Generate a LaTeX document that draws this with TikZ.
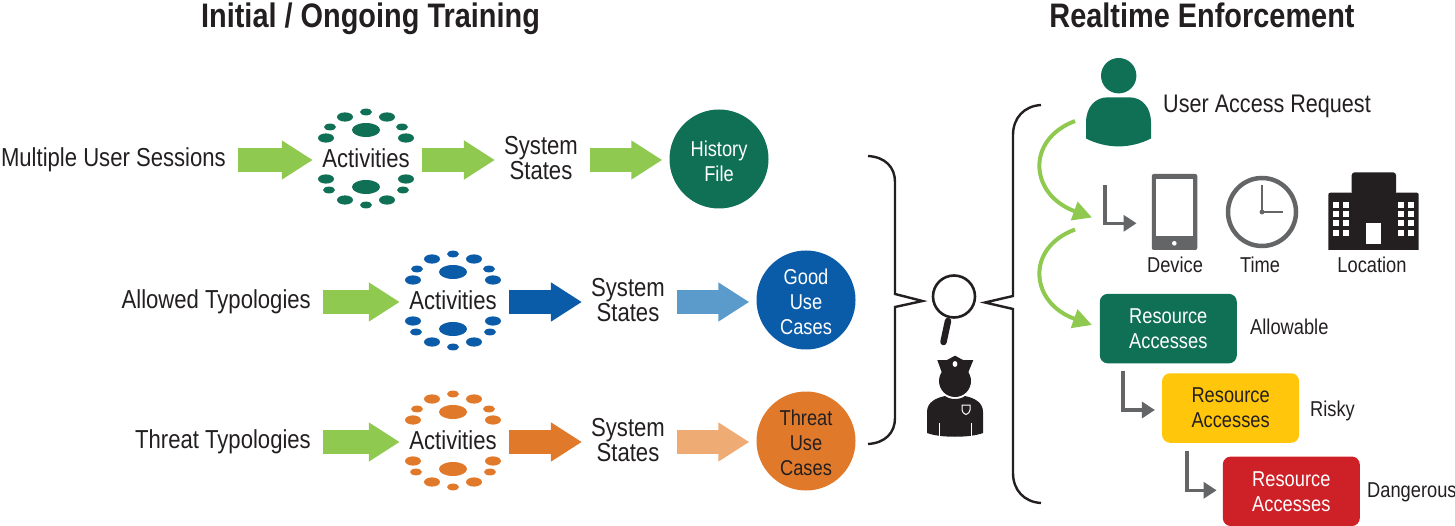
\documentclass[tikz,border=0pt]{standalone}
\usepackage{fontspec}
\setmainfont[FakeStretch=0.85]{Liberation Sans}
\usetikzlibrary{arrows.meta}
\usetikzlibrary{calc}

\definecolor{dkgreen}{HTML}{0F7055}
\definecolor{lime}{HTML}{8FC94F}
\definecolor{dkblue}{HTML}{0B5CA8}
\definecolor{ltblue}{HTML}{5B9BCB}
\definecolor{dkorange}{HTML}{E1792B}
\definecolor{ltorange}{HTML}{EEAB74}
\definecolor{amber}{HTML}{FFC60B}
\definecolor{alarm}{HTML}{CE2027}
\definecolor{ink}{HTML}{231F20}
\definecolor{slate}{HTML}{646567}

\tikzset{
	bigtxt/.style={inner sep=0pt,text=ink,font=\fontsize{26}{25}\selectfont,text height=18.6pt,text depth=0pt},
	smalltxt/.style={inner sep=0pt,text=ink,font=\fontsize{21.5}{25}\selectfont,text height=15.4pt,text depth=0pt},
	headtxt/.style={inner sep=0pt,text=ink,font=\fontsize{34}{36}\selectfont\bfseries,text height=24.2pt,text depth=0pt},
	stateblock/.style={inner sep=0pt,text=ink,align=center,minimum width=73pt,font=\fontsize{26}{25}\selectfont},
	ball/.style={circle,inner sep=0pt,minimum size=99pt,align=center,text=white,font=\fontsize{21.5}{25}\selectfont},
	resbox/.style={rounded corners=8pt,inner sep=0pt,minimum width=137pt,minimum height=69.5pt,align=center,text=white,font=\fontsize{21.5}{25}\selectfont},
	fat/.style={line width=24pt,-{Triangle[length=31pt,width=37pt]},shorten <=12pt,shorten >=9pt},
	elbow/.style={slate,line width=3.4pt,-{Triangle[length=13pt,width=16pt]}},
	swoop/.style={lime,line width=4pt,-{Triangle[length=19pt,width=19pt]}},
	brace/.style={ink,line width=2.4pt,line join=miter}
}

\newcommand{\ballstrut}{\rule{0pt}{19.4pt}}

\newcommand{\dotring}[2]{
	\begin{scope}[shift={#1}]
		\foreach \px/\py in {0/-28,0/29}
			\fill[#2] (\px,\py) ellipse (14 and 7);
		\foreach \px/\py in {-21/-41,21/-41,-40/-20,40/-20,-40/21,40/21,-21/42,21/42}
			\fill[#2] (\px,\py) ellipse (8 and 4.6);
		\foreach \px/\py in {0/-46,-36/-31,36/-31,-37/32,37/32,0/47}
			\fill[#2] (\px,\py) ellipse (6 and 3.4);
	\end{scope}
}

\begin{document}
\begin{tikzpicture}[x=1pt,y=-1pt]
	\useasboundingbox (0,0) rectangle (1455,526);

	\node[headtxt] (headl) at (370.5,15) {Initial / Ongoing Training};
	\node[headtxt] (headr) at (1202,15) {Realtime Enforcement};

	\node[bigtxt,anchor=east,text depth=2pt] (sessa) at (226,158) {Multiple User Sessions};
	\node[bigtxt,anchor=east,text depth=2pt] (sessb) at (311,300) {Allowed Typologies};
	\node[bigtxt,anchor=east,text depth=2pt] (sessc) at (311,440) {Threat Typologies};

	\dotring{(366,158)}{dkgreen}
	\dotring{(453,300)}{dkblue}
	\dotring{(453,440)}{dkorange}

	\node[bigtxt,minimum width=88pt] (acta) at (366,158) {Activities};
	\node[bigtxt,minimum width=88pt] (actb) at (453,300) {Activities};
	\node[bigtxt,minimum width=88pt] (actc) at (453,440) {Activities};

	\node[stateblock] (stata) at (541,158) {System\\States};
	\node[stateblock] (statb) at (628,300) {System\\States};
	\node[stateblock] (statc) at (628,440) {System\\States};

	\node[ball,fill=dkgreen] (filea) at (719,159) {\ballstrut History\\File};
	\node[ball,fill=dkblue] (fileb) at (806,300) {\ballstrut Good\\Use\\Cases};
	\node[ball,fill=dkorange,text=ink] (filec) at (806,441) {\ballstrut Threat\\Use\\Cases};

	\draw[fat,lime] ([yshift=-2pt]sessa.east) -- ([yshift=-2pt]acta.west);
	\draw[fat,lime] ([yshift=-2pt]acta.east) -- ([yshift=-2pt]stata.west);
	\draw[fat,lime,shorten >=7pt] ([yshift=-2pt]stata.east) -- ([yshift=-2pt]stata.east -| filea.west);
	\draw[fat,lime] ([yshift=-2pt]sessb.east) -- ([yshift=-2pt]actb.west);
	\draw[fat,dkblue] ([yshift=-2pt]actb.east) -- ([yshift=-2pt]statb.west);
	\draw[fat,ltblue,shorten >=7pt] ([yshift=-2pt]statb.east) -- ([yshift=-2pt]fileb.west);
	\draw[fat,lime] ([yshift=-2pt]sessc.east) -- ([yshift=-2pt]actc.west);
	\draw[fat,dkorange] ([yshift=-2pt]actc.east) -- ([yshift=-2pt]statc.west);
	\draw[fat,ltorange,shorten >=7pt] ([yshift=-2pt]statc.east) -- ([yshift=-2pt]statc.east -| filec.west);

	\draw[brace] (868,156) .. controls (885,157) and (895,167) .. (895,182) -- (895,294) -- (922.5,301) -- (895,307) -- (895,418) .. controls (895,433) and (885,443) .. (868,444);
	\draw[brace] (1041,105) .. controls (1024,106) and (1013,118) .. (1013,135) -- (1013,296) -- (985,302.5) -- (1013,309) -- (1013,473) .. controls (1013,490) and (1024,502) .. (1041,503);

	\node[circle,draw=ink,line width=2.6pt,inner sep=0pt,minimum size=42pt] (lens) at (954,296.5) {};
	\draw[ink,line width=6.5pt,line cap=round] (948,321) -- (943.5,342);

	\fill[ink] (927,433) -- (927,412) .. controls (927,402) and (936,398) .. (945,396) .. controls (950,400) and (960,400) .. (965,396) .. controls (974,398) and (983,402) .. (983,412) -- (983,433) .. controls (970,438) and (940,438) .. (927,433) -- cycle;
	\draw[white,line width=1pt] (939.5,423) -- (939.5,437);
	\draw[white,line width=1pt] (971,423) -- (971,437);
	\draw[white,line width=1pt] (962,405) -- (970,405) -- (970,410) .. controls (969,413) .. (966,414.5) .. controls (963,413) .. (962,410) -- cycle;
	\fill[ink] (955,381) circle (16);
	\fill[ink] (937.3,360) -- (947,360) -- (955,355.7) -- (963,360) -- (973.3,360) -- (968,373) -- (942,373) -- cycle;
	\fill[white] (955,364) ellipse (2.4 and 3);

	\fill[dkgreen] (1118.7,75.7) circle (17.7);
	\fill[dkgreen] (1086,138.5) -- (1086,123) .. controls (1086,107) and (1095,97.3) .. (1108,97.3) -- (1129,97.3) .. controls (1142,97.3) and (1151,107) .. (1151,123) -- (1151,138.5) .. controls (1130,149) and (1107,149) .. (1086,138.5) -- cycle;
	\node[bigtxt,anchor=west,font=\fontsize{25.4}{25}\selectfont] (request) at (1163,103) {User Access Request};

	\node[rounded corners=2pt,fill=slate,inner sep=0pt,minimum width=45.5pt,minimum height=76pt] (phone) at (1174.5,212) {};
	\fill[white] (1155.7,179.3) rectangle (1193.3,236);
	\fill[white] (1174.3,243.3) circle (2.3);
	\node[circle,draw=slate,line width=4.5pt,inner sep=0pt,minimum size=68pt] (clock) at (1262,212) {};
	\draw[slate,line width=1.6pt] (clock.center) -- (1262,185);
	\draw[slate,line width=1.6pt] (clock.center) -- (1282.5,212);
	\fill[slate] (clock.center) circle (2.4);

	\fill[ink,rounded corners=3pt] (1351.7,195) -- (1351.7,172.3) -- (1396,172.3) -- (1396,195) -- cycle;
	\fill[ink] (1328.3,250) -- (1328.3,195) [rounded corners=2pt] -- (1328.3,192.7) -- (1418.7,192.7) [sharp corners] -- (1418.7,250) -- cycle;
	\foreach \wx in {1333.3,1342.7,1398.3,1407.7}
		\foreach \wy in {201.7,211,220.3,229.7}
			\fill[white] (\wx,\wy) rectangle ++(6,6);
	\fill[white] (1366,222.7) rectangle (1381,244);

	\node[smalltxt] (devlab) at (1175,265) {Device};
	\node[smalltxt] (timelab) at (1260,265) {Time};
	\node[smalltxt] (loclab) at (1372,265) {Location};

	\node[resbox,fill=dkgreen] (resa) at (1168.3,328.6) {Resource\\Accesses};
	\node[resbox,fill=amber,text=ink] (resb) at (1230.6,408) {Resource\\Accesses};
	\node[resbox,fill=alarm] (resc) at (1291.3,491.3) {Resource\\Accesses};

	\node[smalltxt,anchor=west] (allowlab) at (1250,327) {Allowable};
	\node[smalltxt,anchor=west] (risklab) at (1310,409) {Risky};
	\node[smalltxt,anchor=west] (dangerlab) at (1367,490) {Dangerous};

	\coordinate (reqout) at (1075,121);
	\coordinate (devin) at (1092,217.5);
	\coordinate (devout) at (1075,229.5);
	\coordinate (resin) at (1092,325);
	\coordinate (devtop) at (1105,185);

	\draw[swoop] (reqout) .. controls (1025,140) and (1030,195) .. (devin);
	\draw[swoop] (devout) .. controls (1025,248) and (1030,303) .. (resin);
	\draw[elbow] (devtop) |- ([xshift=-15pt,yshift=-11.3pt]phone.west);
	\draw[elbow] ([xshift=23.3pt,yshift=-7pt]resa.south west) |- ([xshift=-7pt,yshift=-2pt]resb.west);
	\draw[elbow] ([xshift=25pt,yshift=-8pt]resb.south west) |- ([xshift=-6pt,yshift=1pt]resc.west);
\end{tikzpicture}
\end{document}
